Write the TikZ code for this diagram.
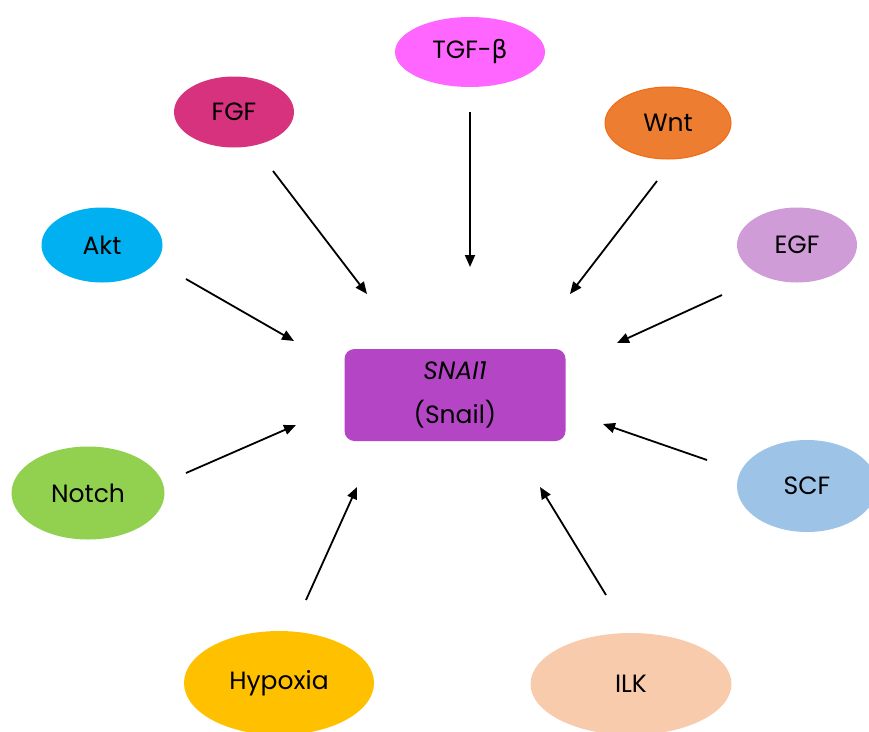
\documentclass[tikz,border=0pt]{standalone}
\usepackage{fontspec}
\setmainfont{Poppins}
\newfontfamily\greekfont{DejaVu Sans}
\usetikzlibrary{arrows.meta,shapes.geometric}
\definecolor{tgfpink}{HTML}{FF66FF}
\definecolor{fgfrose}{HTML}{D6327E}
\definecolor{wntorange}{HTML}{ED7D31}
\definecolor{wntedge}{HTML}{F26A12}
\definecolor{aktblue}{HTML}{00B0F0}
\definecolor{egflilac}{HTML}{CF9CD8}
\definecolor{notchgreen}{HTML}{92D050}
\definecolor{scfblue}{HTML}{9DC3E6}
\definecolor{hypoxgold}{HTML}{FFC000}
\definecolor{ilkpeach}{HTML}{F8CBAD}
\definecolor{snailpurple}{HTML}{B446C6}

\begin{document}
\begin{tikzpicture}[
  x=1pt,y=-1pt,
  factor/.style={ellipse,inner sep=0pt,font=\fontsize{25}{29}\selectfont},
  hub/.style={draw=none,fill=snailpurple,rounded corners=10pt,minimum width=221pt,minimum height=92pt,align=center,font=\fontsize{25}{29}\selectfont},
  arr/.style={-{Triangle[length=12pt,width=10pt]},line width=1.8pt}
]
\useasboundingbox (0,0) rectangle (869,731);
\clip (0,0) rectangle (869,731);
\node[hub] (snail) at (455,395) {\textit{SNAI1}\\[15pt](Snail)};
\node[factor,fill=tgfpink,minimum width=150pt,minimum height=70pt] (tgf) at (470,52) {TGF-{\greekfont β}};
\node[factor,fill=fgfrose,minimum width=120pt,minimum height=71pt] (fgf) at (234,112) {FGF};
\node[factor,fill=wntorange,draw=wntedge,line width=1pt,minimum width=126pt,minimum height=72pt] (wnt) at (668,123) {Wnt};
\node[factor,fill=aktblue,minimum width=121pt,minimum height=75pt] (akt) at (102,245) {Akt};
\node[factor,fill=egflilac,minimum width=120pt,minimum height=75pt] (egf) at (797,245) {EGF};
\node[factor,fill=notchgreen,minimum width=153pt,minimum height=93pt] (notch) at (88,493) {Notch};
\node[factor,fill=scfblue,minimum width=140pt,minimum height=92pt] (scf) at (807,486) {SCF};
\node[factor,fill=hypoxgold,minimum width=190pt,minimum height=104pt] (hypoxia) at (279,683) {Hypoxia};
\node[factor,fill=ilkpeach,minimum width=201pt,minimum height=102pt] (ilk) at (631,684) {ILK};
\coordinate (tgf-out) at (470,112);
\coordinate (tgf-in) at (470,267);
\coordinate (fgf-out) at (273,171);
\coordinate (fgf-in) at (367,294);
\coordinate (wnt-out) at (657,181);
\coordinate (wnt-in) at (570,294);
\coordinate (akt-out) at (186,279);
\coordinate (akt-in) at (294,341);
\coordinate (egf-out) at (722,295);
\coordinate (egf-in) at (617,343);
\coordinate (notch-out) at (186,473);
\coordinate (notch-in) at (296,425);
\coordinate (scf-out) at (707,460);
\coordinate (scf-in) at (603,424);
\coordinate (hypoxia-out) at (306,600);
\coordinate (hypoxia-in) at (357,487);
\coordinate (ilk-out) at (606,595);
\coordinate (ilk-in) at (540,487);
\draw[arr] (tgf-out)--(tgf-in);
\draw[arr] (fgf-out)--(fgf-in);
\draw[arr] (wnt-out)--(wnt-in);
\draw[arr] (akt-out)--(akt-in);
\draw[arr] (egf-out)--(egf-in);
\draw[arr] (notch-out)--(notch-in);
\draw[arr] (scf-out)--(scf-in);
\draw[arr] (hypoxia-out)--(hypoxia-in);
\draw[arr] (ilk-out)--(ilk-in);
\end{tikzpicture}
\end{document}
